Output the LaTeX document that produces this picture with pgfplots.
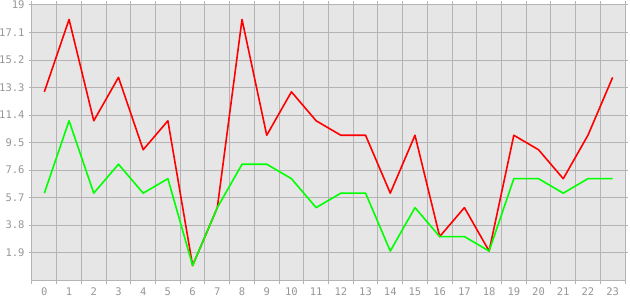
\documentclass[border=0pt]{standalone}
\usepackage{pgfplots}
\pgfplotsset{compat=1.18}
\usepackage{fontspec}
\setmainfont{DejaVu Sans Mono}
\definecolor{bg}{RGB}{230,230,230}
\definecolor{gridc}{RGB}{180,180,180}
\definecolor{labc}{RGB}{150,150,150}
\begin{document}
\begin{tikzpicture}[x=1pt,y=1pt]
\begin{axis}[
  name=ax,
  scale only axis,
  width=593pt, height=275pt,
  xmin=-0.5, xmax=23.5,
  ymin=0, ymax=19,
  axis background/.style={fill=bg},
  axis line style={gridc, line width=1pt},
  xtick={0,...,23},
  minor xtick={-0.5,0.5,...,23.5},
  major x tick style={draw=none},
  xminorgrids=true,
  minor x grid style={gridc, line width=1pt},
  minor x tick style={gridc, line width=1pt},
  ytick={1.9,3.8,5.7,7.6,9.5,11.4,13.3,15.2,17.1,19},
  yticklabels={1.9,3.8,5.7,7.6,9.5,11.4,13.3,15.2,17.1,19},
  ymajorgrids=true,
  major y grid style={gridc, line width=1pt},
  major y tick style={gridc, line width=1pt},
  tick align=outside,
  major tick length=3pt,
  minor tick length=4pt,
  tick label style={font=\fontsize{10.5}{12}\selectfont, text=labc},
  /pgf/number format/assume math mode=true,
  xticklabel style={yshift=-1pt},
  yticklabel style={xshift=-1pt},
  clip=false,
]
\addplot[red, line width=1.6pt, line join=round] coordinates {
(0,13)(1,18)(2,11)(3,14)(4,9)(5,11)(6,1)(7,5)(8,18)(9,10)(10,13)(11,11)
(12,10)(13,10)(14,6)(15,10)(16,3)(17,5)(18,2)(19,10)(20,9)(21,7)(22,10)(23,14)};
\addplot[green, line width=1.6pt, line join=round] coordinates {
(0,6)(1,11)(2,6)(3,8)(4,6)(5,7)(6,1)(7,5)(8,8)(9,8)(10,7)(11,5)
(12,6)(13,6)(14,2)(15,5)(16,3)(17,3)(18,2)(19,7)(20,7)(21,6)(22,7)(23,7)};
\end{axis}
\pgfresetboundingbox
\path ([shift={(-32pt,-20pt)}]ax.south west) rectangle ([shift={(5pt,5pt)}]ax.north east);
\end{tikzpicture}
\end{document}
